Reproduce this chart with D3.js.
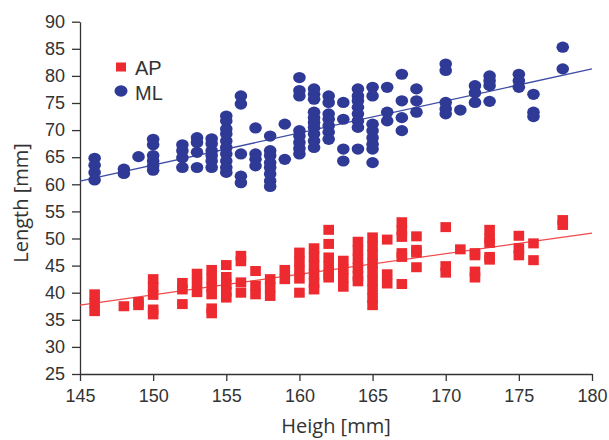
<!DOCTYPE html>
<html lang="en">
<head>
    <meta charset="utf-8">
    <title>Length vs Heigh</title>
    <style>
body {
    margin: 0;
    background: #fff;
}

.tick text {
    font-family: "Liberation Sans", Arial, sans-serif;
    font-size: 18px;
    fill: #333;
}

.axis path, .axis line {
    stroke: #333;
    stroke-width: 1.3;
}

.title {
    font-family: "Open Sans", sans-serif;
    font-size: 20px;
    fill: #333;
}

.legend text {
    font-family: "Liberation Sans", Arial, sans-serif;
    font-size: 20px;
    fill: #333;
}
    </style>
    <script src="https://cdn.jsdelivr.net/npm/d3@7"></script>
</head>
<body>
<div id="chart"></div>
<script type="text/javascript">
// ML (blue ellipses): [heigh, length]
const mlData = [
    [146, 64.8], [146, 63.5], [146, 62.2], [146, 60.8],
    [148, 62.8], [148, 62.0],
    [149, 65.1],
    [150, 68.3], [150, 67.3], [150, 65.3], [150, 64.3], [150, 63.4], [150, 62.6],
    [152, 67.3], [152, 66.2], [152, 64.9], [152, 63.1],
    [153, 68.6], [153, 67.7], [153, 65.9], [153, 63.1],
    [154, 68.4], [154, 67.5], [154, 66.2], [154, 65.3], [154, 64.3], [154, 63.1],
    [155, 72.6], [155, 71.7], [155, 70.2], [155, 69.3], [155, 68.0], [155, 66.8], [155, 65.6], [155, 64.3], [155, 63.1], [155, 62.2],
    [156, 76.3], [156, 74.8], [156, 65.6], [156, 61.5], [156, 60.3],
    [157, 70.4], [157, 65.6], [157, 64.6], [157, 63.4],
    [158, 68.9], [158, 66.2], [158, 65.3], [158, 64.0], [158, 63.1], [158, 61.9], [158, 60.6], [158, 59.6],
    [159, 71.1], [159, 64.6],
    [160, 79.7], [160, 77.3], [160, 76.3], [160, 69.9], [160, 68.9], [160, 67.7], [160, 66.6], [160, 65.6],
    [161, 77.6], [161, 76.6], [161, 75.7], [161, 73.3], [161, 72.3], [161, 71.4], [161, 70.5], [161, 69.3], [161, 68.0], [161, 66.8],
    [162, 76.3], [162, 75.1], [162, 73.0], [162, 72.0], [162, 70.8], [162, 69.6], [162, 68.3],
    [163, 75.1], [163, 72.0], [163, 66.5], [163, 64.3],
    [164, 77.6], [164, 76.3], [164, 75.4], [164, 74.2], [164, 73.0], [164, 71.7], [164, 70.5], [164, 66.5],
    [165, 77.9], [165, 76.3], [165, 71.1], [165, 69.9], [165, 68.6], [165, 67.4], [165, 66.5], [165, 64.0],
    [166, 77.9], [166, 73.3], [166, 71.7],
    [167, 80.3], [167, 75.4], [167, 72.3], [167, 69.9],
    [168, 77.6], [168, 75.4], [168, 73.3],
    [170, 82.2], [170, 81.0], [170, 75.1], [170, 73.9], [170, 73.0],
    [171, 73.7],
    [172, 78.2], [172, 76.9], [172, 75.1],
    [173, 80.0], [173, 79.1], [173, 78.2], [173, 75.3],
    [175, 80.3], [175, 79.1], [175, 77.9],
    [176, 76.6], [176, 73.3], [176, 72.5],
    [178, 85.3], [178, 81.3]
];

// AP (red squares): [heigh, length]
const apData = [
    [146, 39.7], [146, 38.1], [146, 36.6],
    [148, 37.5],
    [149, 38.3], [149, 37.7],
    [150, 42.5], [150, 41.0], [150, 39.6], [150, 36.9], [150, 36.0],
    [152, 41.8], [152, 40.6], [152, 37.9],
    [153, 43.5], [153, 41.8], [153, 40.1],
    [154, 44.2], [154, 42.6], [154, 41.0], [154, 39.7], [154, 37.1], [154, 36.2],
    [155, 45.1], [155, 42.9], [155, 41.5], [155, 40.2], [155, 39.1],
    [156, 46.8], [156, 45.8], [156, 41.9], [156, 40.0],
    [157, 44.0], [157, 41.3], [157, 39.7],
    [158, 42.5], [158, 41.0], [158, 39.4],
    [159, 44.2], [159, 42.5],
    [160, 47.4], [160, 45.8], [160, 44.2], [160, 42.6], [160, 40.0],
    [161, 48.2], [161, 46.6], [161, 45.0], [161, 43.4], [161, 41.8], [161, 40.6],
    [162, 51.6], [162, 49.0], [162, 46.5], [162, 44.9], [162, 43.4], [162, 42.8],
    [163, 45.9], [163, 44.3], [163, 42.7], [163, 41.1],
    [164, 49.4], [164, 47.8], [164, 46.2], [164, 44.6], [164, 43.1], [164, 42.1],
    [165, 50.2], [165, 48.6], [165, 47.0], [165, 45.4], [165, 43.8], [165, 42.2], [165, 40.6], [165, 39.0], [165, 37.7],
    [166, 49.8], [166, 43.4], [166, 41.7],
    [167, 53.0], [167, 51.5], [167, 50.3], [167, 47.3], [167, 46.6], [167, 41.6],
    [168, 50.4], [168, 47.9], [168, 47.4], [168, 44.7],
    [170, 52.1], [170, 44.9], [170, 43.7],
    [171, 48.0],
    [172, 47.3], [172, 46.9], [172, 43.9], [172, 42.8],
    [173, 51.6], [173, 50.0], [173, 49.2], [173, 46.6], [173, 46.1],
    [175, 50.5], [175, 48.2], [175, 46.9],
    [176, 49.1], [176, 46.0],
    [178, 53.4], [178, 52.5]
];

// fitted lines (ends at 145 and 180)
const mlFit = [[145, 60.6], [180, 81.3]];
const apFit = [[145, 37.7], [180, 51.0]];

const xTicks = [145, 150, 155, 160, 165, 170, 175, 180];
const yTicks = [25, 30, 35, 40, 45, 50, 55, 60, 65, 70, 75, 80, 85, 90];

const width = 609;
const height = 440;
const blue = "#2f3a96";
const red = "#ec2a30";

const svg = d3.select("#chart").append("svg")
    .attr("width", width)
    .attr("height", height);

const x = d3.scaleLinear().domain([145, 180]).range([80, 592]);
const y = d3.scaleLinear().domain([25, 90]).range([374, 21.7]);

svg.append("g")
    .attr("class", "axis")
    .attr("transform", "translate(0,374)")
    .call(d3.axisBottom(x).tickValues(xTicks).tickSize(7).tickSizeOuter(0).tickPadding(8));

svg.append("g")
    .attr("class", "axis")
    .attr("transform", "translate(80,0)")
    .call(d3.axisLeft(y).tickValues(yTicks).tickSize(8).tickSizeOuter(0).tickPadding(7));

const line = d3.line().x(d => x(d[0])).y(d => y(d[1]));

svg.append("path")
    .datum(mlFit)
    .attr("d", line)
    .attr("fill", "none")
    .attr("stroke", "#3d4ca4")
    .attr("stroke-width", 1.3);

svg.append("path")
    .datum(apFit)
    .attr("d", line)
    .attr("fill", "none")
    .attr("stroke", "#ee4a4a")
    .attr("stroke-width", 1.2);

svg.append("g").selectAll("ellipse")
    .data(mlData)
    .enter()
    .append("ellipse")
    .attr("cx", d => x(d[0]))
    .attr("cy", d => y(d[1]))
    .attr("rx", 6.3)
    .attr("ry", 5.6)
    .attr("fill", blue);

svg.append("g").selectAll("rect")
    .data(apData)
    .enter()
    .append("rect")
    .attr("x", d => x(d[0]) - 5.3)
    .attr("y", d => y(d[1]) - 5)
    .attr("width", 10.6)
    .attr("height", 10)
    .attr("fill", red);

// legend
const legend = svg.append("g").attr("class", "legend");
legend.append("rect")
    .attr("x", 116).attr("y", 62.5)
    .attr("width", 10).attr("height", 9)
    .attr("fill", red);
legend.append("text").attr("x", 135).attr("y", 74.5).text("AP");
legend.append("ellipse")
    .attr("cx", 121).attr("cy", 91)
    .attr("rx", 6.5).attr("ry", 5.8)
    .attr("fill", blue);
legend.append("text").attr("x", 135).attr("y", 100).text("ML");

// axis titles
svg.append("text")
    .attr("class", "title")
    .attr("x", 336)
    .attr("y", 433)
    .attr("text-anchor", "middle")
    .text("Heigh [mm]");

svg.append("text")
    .attr("class", "title")
    .attr("transform", "translate(28,203) rotate(-90)")
    .attr("text-anchor", "middle")
    .text("Length [mm]");
</script>
</body>
</html>
